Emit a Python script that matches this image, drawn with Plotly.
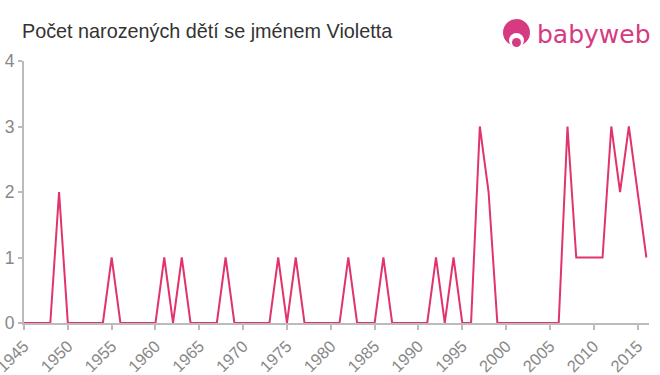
import plotly.graph_objects as go

years = list(range(1945, 2017))
counts = [
    0, 0, 0, 0, 2, 0, 0, 0, 0, 0,   # 1945-1954
    1, 0, 0, 0, 0, 0, 1, 0, 1, 0,   # 1955-1964
    0, 0, 0, 1, 0, 0, 0, 0, 0, 1,   # 1965-1974
    0, 1, 0, 0, 0, 0, 0, 1, 0, 0,   # 1975-1984
    0, 1, 0, 0, 0, 0, 0, 1, 0, 1,   # 1985-1994
    0, 0, 3, 2, 0, 0, 0, 0, 0, 0,   # 1995-2004
    0, 0, 3, 1, 1, 1, 1, 3, 2, 3,   # 2005-2014
    2, 1,                           # 2015-2016
]
x_ticks = list(range(1945, 2020, 5))
y_ticks = [0, 1, 2, 3, 4]
title = "Počet narozených dětí se jménem Violetta"
logo_text = "babyweb"

L, R, T, B = 24, 11, 61, 52
W, H = 660, 375
pw = W - L - R
ph = H - T - B


def px(xp):
    return (xp - L) / pw


def py(yp):
    return (H - B - yp) / ph


fig = go.Figure()
fig.add_trace(go.Scatter(
    x=years, y=counts, mode="lines",
    line=dict(color="#e0346a", width=2),
    hoverinfo="x+y", showlegend=False,
))

axis_color = "#bbbbbb"
fig.update_layout(
    width=W, height=H,
    margin=dict(l=L, r=R, t=T, b=B, autoexpand=False),
    paper_bgcolor="white", plot_bgcolor="white",
    font=dict(family="Liberation Sans, Arial, sans-serif", color="#888888"),
    xaxis=dict(
        range=[1945, 2016.3], tickvals=x_ticks, ticktext=[str(v) for v in x_ticks],
        tickangle=-45, tickfont=dict(size=16.5, color="#888888"),
        ticklabeloverflow="allow",
        showgrid=False, zeroline=False, showline=True, linecolor=axis_color, linewidth=2,
        ticks="outside", ticklen=5, tickcolor=axis_color, tickwidth=2, automargin=False,
    ),
    yaxis=dict(
        range=[0, 4], tickvals=y_ticks, tickfont=dict(size=17.5, color="#888888"),
        showgrid=False, zeroline=False, showline=True, linecolor=axis_color, linewidth=2,
        ticks="outside", ticklen=4, tickcolor=axis_color, tickwidth=2, automargin=False,
    ),
    annotations=[
        dict(text=title, xref="paper", yref="paper", x=px(22), y=py(31),
             xanchor="left", yanchor="middle", showarrow=False, xshift=-2,
             font=dict(size=19.8, color="#333333", family="Liberation Sans, Arial, sans-serif")),
        dict(text=logo_text, xref="paper", yref="paper", x=px(653), y=py(34),
             xanchor="right", yanchor="middle", showarrow=False,
             font=dict(size=25, color="#d63a80", family="DejaVu Sans, sans-serif")),
    ],
)
fig.add_shape(type="circle", xref="paper", yref="paper",
              x0=px(503), x1=px(530), y0=py(46), y1=py(19),
              fillcolor="#d63a80", line=dict(width=0))
fig.add_shape(type="circle", xref="paper", yref="paper",
              x0=px(509), x1=px(524), y0=py(48), y1=py(33),
              fillcolor="white", line=dict(width=0))
fig.add_shape(type="circle", xref="paper", yref="paper",
              x0=px(512), x1=px(521), y0=py(47), y1=py(38),
              fillcolor="#d63a80", line=dict(width=0))

fig.write_html(
    "out.html",
    config={"displayModeBar": False},
    post_script="document.body.style.margin='0';document.body.style.overflow='hidden';",
)
